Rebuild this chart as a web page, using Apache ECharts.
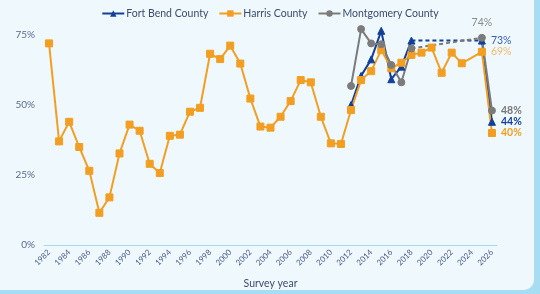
<!DOCTYPE html>
<html><head><meta charset="utf-8">
<script src="https://cdn.jsdelivr.net/npm/echarts@6/dist/echarts.min.js"></script>
<style>
html,body{margin:0;padding:0;width:540px;height:294px;overflow:hidden;background:#a8dcf3;}
#card{position:absolute;left:-12px;top:-12px;width:546px;height:302px;background:#eff9fd;border-radius:10px;}
#chart{position:absolute;left:0;top:0;width:540px;height:294px;}
</style></head>
<body><div id="card"></div><div id="chart"></div>
<script>
const years = [];
for (let y = 1982; y <= 2026; y++) years.push(String(y));
const yTicks = [0, 25, 50, 75];

const harrisYears = [1982,1983,1984,1985,1986,1987,1988,1989,1990,1991,1992,1993,1994,1995,1996,1997,1998,1999,2000,2001,2002,2003,2004,2005,2006,2007,2008,2009,2010,2011,2012,2013,2014,2015,2016,2017,2018,2019,2020,2021,2022,2023,2025,2026];
const harrisVals  = [72,37,44,35,26.5,11.5,17,32.7,43,40.8,29,25.7,39,39.4,47.6,49,68.3,66.4,71.2,64.8,52.3,42.3,41.9,45.8,51.4,58.9,58.1,45.8,36.3,36.1,48.2,58.9,62.1,69.6,63.1,65.1,67.9,68.7,70.5,61.5,68.7,64.9,69,40];

const fortBendYears = [2012,2013,2014,2015,2016,2017,2018,2025,2026];
const fortBendVals  = [50,60.4,66.3,76.5,59.2,63.7,73,73,44];

const montYears = [2012,2013,2014,2015,2016,2017,2018,2025,2026];
const montVals  = [56.8,77.1,72,71.7,64.3,58.1,70.2,74,48];

const solidUntil = 2018; // later gap bridged with dashed line

const C_FB = '#123f98', C_H = '#f29e22', C_M = '#7b7b7b';

function series(yrs, vals, filter) {
  const arr = years.map(() => null);
  yrs.forEach((y, i) => { if (filter(y)) arr[y - 1982] = vals[i]; });
  return arr;
}

const endLabel = {
  2025: {'Fort Bend County': {pos:'right', color:'#3a5cb0', bold:false},
         'Harris County': {pos:'right', color:'#f3b869', bold:false},
         'Montgomery County': {pos:'top', color:'#8a8a8a', bold:false}},
  2026: {'Fort Bend County': {pos:'right', color:'#123f98', bold:true},
         'Harris County': {pos:'right', color:'#f29e22', bold:true},
         'Montgomery County': {pos:'right', color:'#777777', bold:true}}
};

function withLabels(arr, name) {
  return arr.map((v, i) => {
    const yr = 1982 + i;
    if (v == null || !endLabel[yr]) return v;
    const L = endLabel[yr][name];
    return {value: v, label: {show: true, position: L.pos, distance: L.pos==='top'?6:5,
      formatter: Math.round(v) + '%', color: L.color, fontSize: 10.5,
      fontWeight: L.bold ? 'bold' : 'normal', fontFamily: 'Lato'}};
  });
}

function mainSeries(name, color, symbol, size, yrs, vals, filt, connect) {
  return {name, type:'line', data: withLabels(series(yrs, vals, filt), name),
    connectNulls: connect, symbol, symbolSize: size, showSymbol: true, showAllSymbol: true,
    clip: false,
    lineStyle:{color, width:2}, itemStyle:{color, borderColor: color}, z: 3,
    labelLayout: {hideOverlap: false}};
}
function dashSeries(name, color, yrs, vals) {
  return {name: name + ' gap', type:'line',
    data: series(yrs, vals, y => y === solidUntil || y === 2025),
    connectNulls: true, symbol:'none', clip: false,
    lineStyle:{color, width:2, type:[4,3]}, z: 2, silent:true};
}

const chart = echarts.init(document.getElementById('chart'));
chart.setOption({
  animation: false,
  backgroundColor: 'transparent',
  textStyle: {fontFamily: 'Lato'},
  legend: {
    top: 3, left: 'center', itemWidth: 22, itemHeight: 8, itemGap: 10,
    data: ['Fort Bend County', 'Harris County', 'Montgomery County'],
    textStyle: {color: '#3b4a6e', fontSize: 10.5, fontFamily: 'Lato', padding:[0,0,0,-3]}
  },
  grid: {left: 44, right: 43, top: 35, bottom: 49, containLabel: false},
  xAxis: {
    type: 'category', data: years, boundaryGap: true,
    name: 'Survey year', nameLocation: 'middle', nameGap: 33,
    nameTextStyle: {color: '#3b4a6e', fontSize: 10.5, fontFamily: 'Lato'},
    axisLine: {lineStyle: {color: '#a9d9ef', width: 1}},
    axisTick: {show: false},
    axisLabel: {interval: 1, rotate: 45, color: '#4b5a88', fontSize: 8, margin: 6, fontFamily: 'Lato'}
  },
  yAxis: {
    type: 'value', min: 0, max: 75, interval: 25,
    axisLine: {show: false}, axisTick: {show: false}, splitLine: {show: false},
    axisLabel: {formatter: v => yTicks.includes(v) ? v + '%' : '', color: '#5a6a90', fontSize: 10, margin: 9, fontFamily: 'Lato'}
  },
  series: [
    mainSeries('Fort Bend County', C_FB, 'triangle', 7, fortBendYears, fortBendVals, y => y <= solidUntil || y >= 2025, false),
    mainSeries('Harris County', C_H, 'rect', 7, harrisYears, harrisVals, y => true, true),
    mainSeries('Montgomery County', C_M, 'circle', 7, montYears, montVals, y => y <= solidUntil || y >= 2025, false),
    dashSeries('Fort Bend County', C_FB, fortBendYears, fortBendVals),
    dashSeries('Montgomery County', C_M, montYears, montVals)
  ]
});
</script></body></html>
